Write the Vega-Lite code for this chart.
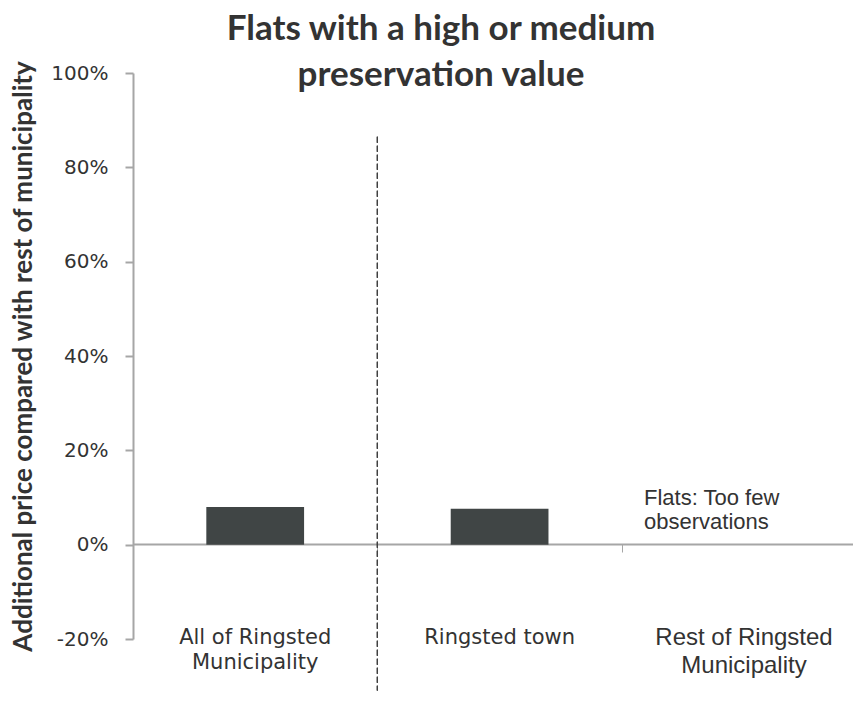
{
  "$schema": "https://vega.github.io/schema/vega-lite/v6.json",
  "autosize": "none",
  "width": 720,
  "height": 566,
  "padding": {"left": 133, "top": 73, "right": 0, "bottom": 78},
  "background": "white",
  "title": {
    "text": ["Flats with a high or medium", "preservation value"],
    "font": "Lato",
    "fontSize": 35,
    "fontWeight": "bold",
    "color": "#333333",
    "anchor": "middle",
    "frame": "group",
    "dx": -52,
    "offset": -33,
    "lineHeight": 46
  },
  "config": {
    "view": {"stroke": null},
    "axis": {"grid": false}
  },
  "data": {
    "values": [
      {"category": "All of Ringsted Municipality", "label": "All of Ringsted|Municipality", "value": 8.0, "group": "a"},
      {"category": "Ringsted town", "label": "Ringsted town", "value": 7.6, "group": "a"},
      {"category": "Rest of Ringsted Municipality", "label": "Rest of Ringsted|Municipality", "value": null, "group": "b"}
    ]
  },
  "encoding": {
    "x": {
      "field": "category",
      "type": "nominal",
      "sort": null,
      "scale": {"paddingInner": 0, "paddingOuter": 0, "range": [0, 733.2]},
      "axis": {
        "orient": "bottom",
        "offset": -95,
        "title": null,
        "labels": false,
        "tickBand": "extent",
        "tickSize": 8,
        "tickColor": "#a6a6a6",
        "tickWidth": 1,
        "domainColor": "#a6a6a6",
        "domainWidth": 2
      }
    }
  },
  "layer": [
    {
      "mark": {"type": "bar", "color": "#404545", "width": {"band": 0.4}},
      "encoding": {
        "y": {
          "field": "value",
          "type": "quantitative",
          "scale": {"domain": [-20, 100], "nice": false, "zero": false},
          "axis": {
            "values": [-20, 0, 20, 40, 60, 80, 100],
            "labelExpr": "datum.value + '%'",
            "labelFont": "DejaVu Sans",
            "labelFontSize": 20,
            "labelColor": "#333333",
            "labelPadding": 17,
            "tickSize": 8,
            "tickColor": "#a6a6a6",
            "tickWidth": 2,
            "domainColor": "#a6a6a6",
            "domainWidth": 2,
            "title": "Additional price compared with rest of municipality",
            "titleFont": "Lato",
            "titleFontSize": 26,
            "titleFontWeight": "bold",
            "titleColor": "#333333",
            "titlePadding": 14
          }
        }
      }
    },
    {
      "mark": {"type": "rule", "color": "#404040", "strokeWidth": 1.2, "strokeDash": [6, 3]},
      "encoding": {
        "x": {"datum": "Ringsted town", "bandPosition": 0},
        "y": {"datum": 86.5},
        "y2": {"datum": -30.9}
      }
    },
    {
      "transform": [{"filter": "datum.group == 'a'"}],
      "mark": {"type": "text", "font": "DejaVu Sans", "fontSize": 21, "color": "#333333", "baseline": "middle", "lineBreak": "|", "lineHeight": 25, "align": "center", "dy": -1},
      "encoding": {
        "text": {"field": "label"},
        "y": {"datum": -20}
      }
    },
    {
      "transform": [{"filter": "datum.group == 'b'"}],
      "mark": {"type": "text", "font": "Liberation Sans", "fontSize": 24, "color": "#333333", "baseline": "middle", "lineBreak": "|", "lineHeight": 28, "align": "center", "dy": -1},
      "encoding": {
        "text": {"field": "label"},
        "y": {"datum": -20}
      }
    },
    {
      "transform": [{"filter": "datum.group == 'b'"}],
      "mark": {"type": "text", "font": "Liberation Sans", "fontSize": 22, "color": "#333333", "baseline": "middle", "lineBreak": "|", "lineHeight": 24, "align": "left", "dx": -100, "dy": 0},
      "encoding": {
        "text": {"value": "Flats: Too few|observations"},
        "y": {"datum": 9.8}
      }
    }
  ]
}
